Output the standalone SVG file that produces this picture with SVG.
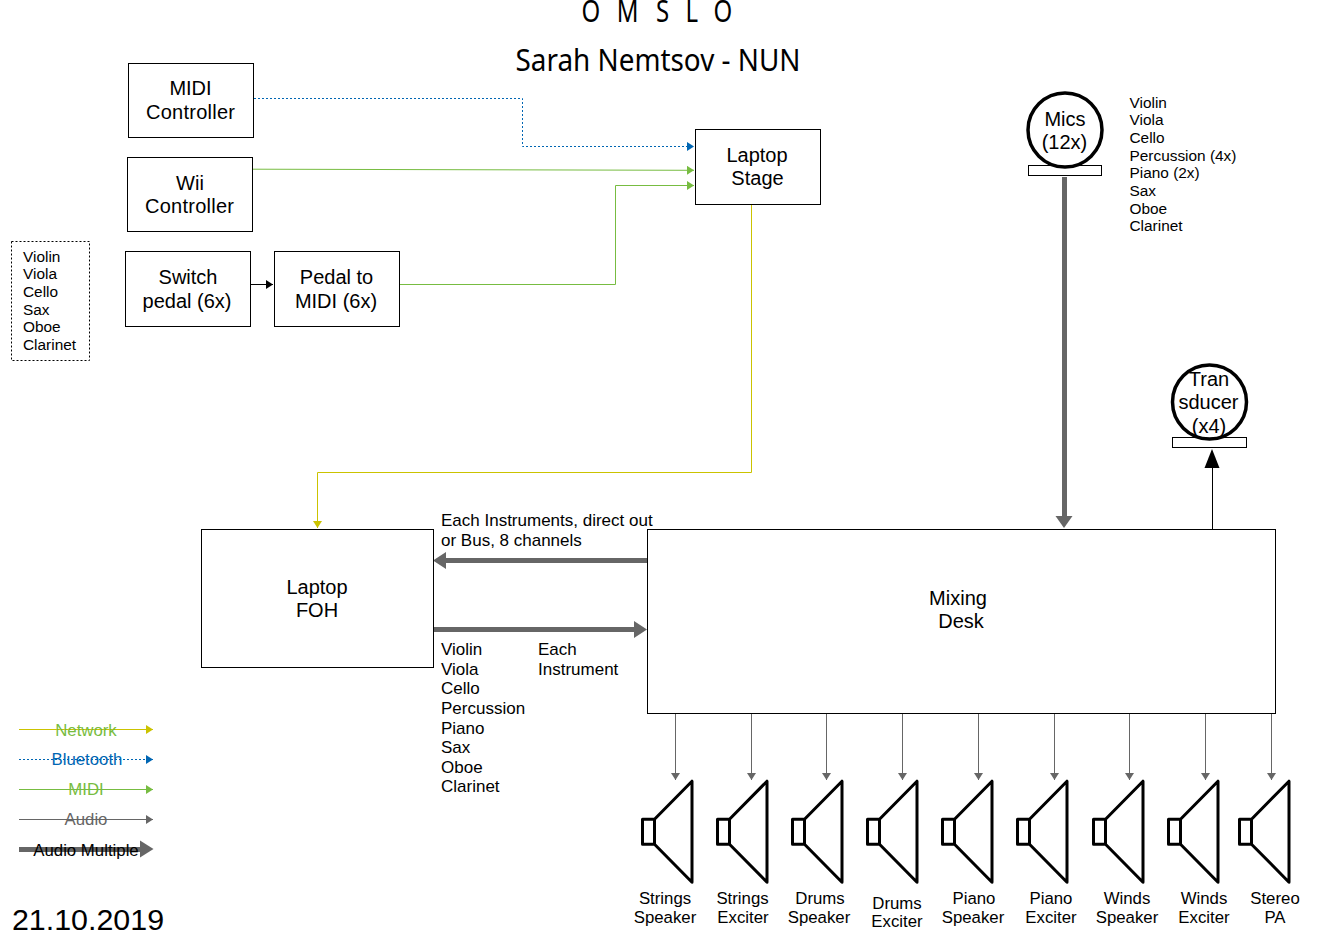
<svg xmlns="http://www.w3.org/2000/svg" width="1333" height="943" viewBox="0 0 1333 943">
<style>
text{font-family:"Liberation Sans",Arial,sans-serif;fill:#000;font-size:20px;text-anchor:middle}
.s{font-size:15.400px;text-anchor:start}
.f{font-size:17px;text-anchor:start}
.m{font-size:16.800px;text-anchor:middle}
.t{font-family:"Noto Sans",sans-serif}
.b{fill:#fff;stroke:#000;stroke-width:1}
.c{fill:#fff;stroke:#000;stroke-width:3.5}
.l{fill:none;stroke-width:1}
.sp{fill:none;stroke:#000;stroke-width:3;stroke-linejoin:round}
</style>
<defs>
<marker id="aG" markerUnits="userSpaceOnUse" markerWidth="8" markerHeight="9" refX="7" refY="4.500" orient="auto"><path d="M0 0L7 4.500L0 9z" fill="#666"/></marker>
<marker id="aGr" markerUnits="userSpaceOnUse" markerWidth="8" markerHeight="9" refX="7" refY="4.500" orient="auto"><path d="M0 0L7 4.500L0 9z" fill="#77bc41"/></marker>
<marker id="aB" markerUnits="userSpaceOnUse" markerWidth="8" markerHeight="9" refX="7" refY="4.500" orient="auto"><path d="M0 0L7 4.500L0 9z" fill="#0066b3"/></marker>
<marker id="aY" markerUnits="userSpaceOnUse" markerWidth="8" markerHeight="9" refX="7" refY="4.500" orient="auto"><path d="M0 0L7 4.500L0 9z" fill="#cbc300"/></marker>
<marker id="aK" markerUnits="userSpaceOnUse" markerWidth="8" markerHeight="9" refX="7" refY="4.500" orient="auto"><path d="M0 0L7 4.500L0 9z" fill="#000"/></marker>
<path id="spk" d="M0 0H12V25H0zM12 0L49.500 -38V63L12 25"/>
</defs>
<rect width="1333" height="943" fill="#fff"/>
<text id="title1" class="t" transform="translate(0 22.200) scale(.8 1)" y="0" style="font-size:30px;text-anchor:start" x="727 750 771 796 820 840 857 875 892">O M S L O</text>
<text id="title2" class="t" x="658" y="70.500" style="font-size:30px" textLength="285" lengthAdjust="spacingAndGlyphs">Sarah Nemtsov - NUN</text>
<g id="connectors">
<path class="l" stroke="#0066b3" stroke-dasharray="2 2" d="M254 98.500H522.500V146.500H694" marker-end="url(#aB)"/>
<path class="l" stroke="#77bc41" d="M253 169.200L694 170.300" marker-end="url(#aGr)"/>
<path class="l" stroke="#77bc41" d="M400 284.500H615.500V185.500H694" marker-end="url(#aGr)"/>
<path class="l" stroke="#000" d="M251 284.500H273" marker-end="url(#aK)"/>
<path class="l" stroke="#cbc300" d="M751.500 205V472.500H317.500V528" marker-end="url(#aY)"/>
<path fill="none" stroke="#666" stroke-width="5" d="M1064.500 177V516"/><path d="M1055.500 516H1072.500L1064 528z" fill="#666"/>
<path class="l" stroke="#000" d="M1212.500 529V468"/><path d="M1204.500 468L1212 449L1219.500 468z" fill="#000"/>
<path fill="none" stroke="#666" stroke-width="5" d="M647 560.500H446"/><path d="M446 552V569L433 560.500z" fill="#666"/>
<path fill="none" stroke="#666" stroke-width="5" d="M434 629.500H634"/><path d="M634 621V638L647 629.500z" fill="#666"/>
<path class="l" stroke="#666" d="M675.500 714V780" marker-end="url(#aG)"/>
<path class="l" stroke="#666" d="M751.500 714V780" marker-end="url(#aG)"/>
<path class="l" stroke="#666" d="M826.500 714V780" marker-end="url(#aG)"/>
<path class="l" stroke="#666" d="M902.500 714V780" marker-end="url(#aG)"/>
<path class="l" stroke="#666" d="M978.500 714V780" marker-end="url(#aG)"/>
<path class="l" stroke="#666" d="M1054.500 714V780" marker-end="url(#aG)"/>
<path class="l" stroke="#666" d="M1129.500 714V780" marker-end="url(#aG)"/>
<path class="l" stroke="#666" d="M1205.500 714V780" marker-end="url(#aG)"/>
<path class="l" stroke="#666" d="M1271.500 714V780" marker-end="url(#aG)"/>
</g>
<g id="midi"><rect class="b" x="128.500" y="63.500" width="125" height="74"/><text x="190.500" y="95">MIDI</text><text x="190.500" y="119" textLength="89">Controller</text></g>
<g id="wii"><rect class="b" x="127.500" y="157.500" width="125" height="74"/><text x="190" y="190">Wii</text><text x="189.500" y="213" textLength="89">Controller</text></g>
<g id="switch"><rect class="b" x="125.500" y="251.500" width="125" height="75"/><text x="188" y="284">Switch</text><text x="187" y="308">pedal (6x)</text></g>
<g id="pedal"><rect class="b" x="274.500" y="251.500" width="125" height="75"/><text x="336.500" y="284">Pedal to</text><text x="336" y="308">MIDI (6x)</text></g>
<g id="stage"><rect class="b" x="695.500" y="129.500" width="125" height="75"/><text x="757" y="162">Laptop</text><text x="757.500" y="185">Stage</text></g>
<g id="foh"><rect class="b" x="201.500" y="529.500" width="232" height="138"/><text x="317" y="594">Laptop</text><text x="317" y="617">FOH</text></g>
<g id="desk"><rect class="b" x="647.500" y="529.500" width="628" height="184"/><text x="958" y="605">Mixing</text><text x="961" y="628">Desk</text></g>
<g id="mics"><rect class="b" x="1028.500" y="165.500" width="73" height="10"/><circle class="c" cx="1065" cy="130" r="37"/><text x="1065" y="126">Mics</text><text x="1064.500" y="149">(12x)</text></g>
<g id="transducer"><rect class="b" x="1172.500" y="437.500" width="74" height="10"/><circle class="c" cx="1209.500" cy="402" r="37"/><text x="1209" y="386">Tran</text><text x="1208.500" y="409">sducer</text><text x="1209" y="433">(x4)</text></g>
<g id="micList"><text class="s" x="1129.500" y="108">Violin</text><text class="s" x="1129.500" y="125">Viola</text><text class="s" x="1129.500" y="143">Cello</text><text class="s" x="1129.500" y="161">Percussion (4x)</text><text class="s" x="1129.500" y="178">Piano (2x)</text><text class="s" x="1129.500" y="196">Sax</text><text class="s" x="1129.500" y="214">Oboe</text><text class="s" x="1129.500" y="231">Clarinet</text></g>
<g id="strings"><rect x="11.500" y="241.500" width="78" height="119" fill="#fff" stroke="#000" stroke-dasharray="2 2"/><text class="s" x="23" y="262">Violin</text><text class="s" x="23" y="279">Viola</text><text class="s" x="23" y="297">Cello</text><text class="s" x="23" y="315">Sax</text><text class="s" x="23" y="332">Oboe</text><text class="s" x="23" y="350">Clarinet</text></g>
<g id="l1"><text class="f" x="441" y="526">Each Instruments, direct out</text><text class="f" x="441" y="546">or Bus, 8 channels</text></g>
<g id="l2"><text class="f" x="441" y="655">Violin</text><text class="f" x="441" y="675">Viola</text><text class="f" x="441" y="694">Cello</text><text class="f" x="441" y="714">Percussion</text><text class="f" x="441" y="734">Piano</text><text class="f" x="441" y="753">Sax</text><text class="f" x="441" y="773">Oboe</text><text class="f" x="441" y="792">Clarinet</text></g>
<g id="l3"><text class="f" x="538" y="655">Each</text><text class="f" x="538" y="675">Instrument</text></g>
<g id="speakers">
<use href="#spk" class="sp" x="642.500" y="819.200"/><use href="#spk" class="sp" x="717.500" y="819.200"/><use href="#spk" class="sp" x="792.500" y="819.200"/><use href="#spk" class="sp" x="867.500" y="819.200"/><use href="#spk" class="sp" x="942.500" y="819.200"/><use href="#spk" class="sp" x="1017.500" y="819.200"/><use href="#spk" class="sp" x="1093.500" y="819.200"/><use href="#spk" class="sp" x="1168.500" y="819.200"/><use href="#spk" class="sp" x="1239.500" y="819.200"/>
<text class="m" x="665" y="904">Strings</text><text class="m" x="665" y="923">Speaker</text>
<text class="m" x="742.500" y="904">Strings</text><text class="m" x="743" y="923">Exciter</text>
<text class="m" x="820" y="904">Drums</text><text class="m" x="819" y="923">Speaker</text>
<text class="m" x="897" y="909">Drums</text><text class="m" x="897" y="927">Exciter</text>
<text class="m" x="974" y="904">Piano</text><text class="m" x="973" y="923">Speaker</text>
<text class="m" x="1051" y="904">Piano</text><text class="m" x="1051" y="923">Exciter</text>
<text class="m" x="1127" y="904">Winds</text><text class="m" x="1127" y="923">Speaker</text>
<text class="m" x="1204" y="904">Winds</text><text class="m" x="1204" y="923">Exciter</text>
<text class="m" x="1275" y="904">Stereo</text><text class="m" x="1275" y="923">PA</text>
</g>
<g id="legend">
<path class="l" stroke="#cbc300" d="M19 729.500H153" marker-end="url(#aY)"/><text class="m" style="fill:#77bc41" x="86" y="736">Network</text>
<path class="l" stroke="#0066b3" stroke-dasharray="2 2" d="M19 759.500H153" marker-end="url(#aB)"/><text class="m" style="fill:#0066b3" x="87" y="765">Bluetooth</text>
<path class="l" stroke="#77bc41" d="M19 789.500H153" marker-end="url(#aGr)"/><text class="m" style="fill:#77bc41" x="86" y="795">MIDI</text>
<path class="l" stroke="#666" d="M19 819.500H153" marker-end="url(#aG)"/><text class="m" style="fill:#666" x="86" y="825">Audio</text>
<path fill="none" stroke="#666" stroke-width="5" d="M19 849.500H141"/><path d="M140 840.500V857.500L153.500 849z" fill="#666"/><text class="m" x="86" y="856">Audio Multiple</text>
</g>
<text id="date" x="88" y="930" style="font-size:30.400px">21.10.2019</text>
</svg>
